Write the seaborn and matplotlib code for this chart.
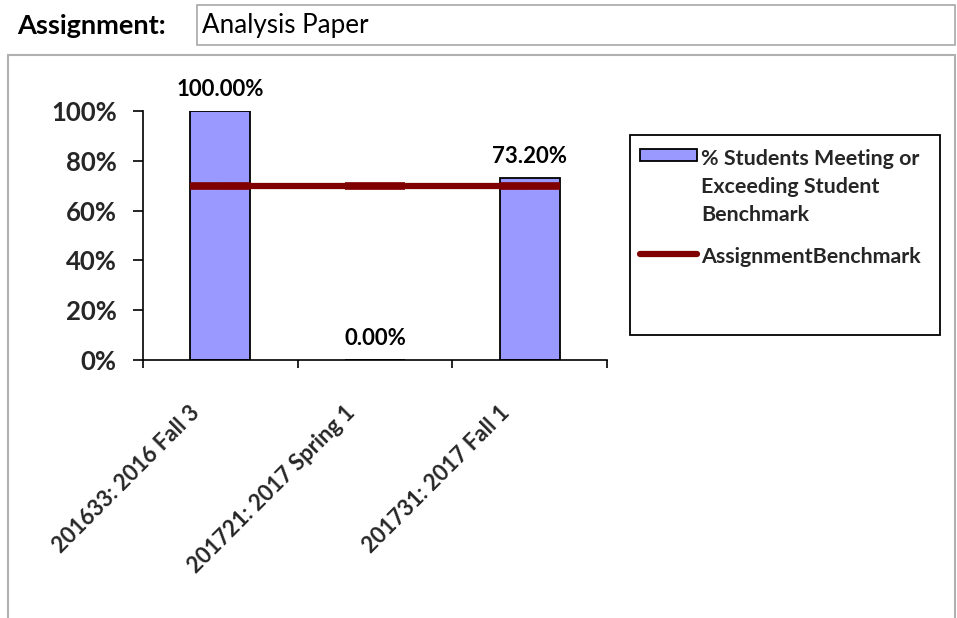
import matplotlib
matplotlib.use("Agg")
import matplotlib.pyplot as plt
from matplotlib.patches import Rectangle
from matplotlib.lines import Line2D
from matplotlib.transforms import ScaledTranslation
import seaborn as sns
import pandas as pd

# Terms, share of students at or above the student benchmark, assignment benchmark
terms = ["201633: 2016 Fall 3", "201721: 2017 Spring 1", "201731: 2017 Fall 1"]
pct_meeting = [1.00, 0.00, 0.732]
assignment_benchmark = [0.70, 0.70, 0.70]
y_ticks = [0.0, 0.2, 0.4, 0.6, 0.8, 1.0]
y_tick_labels = ["0%", "20%", "40%", "60%", "80%", "100%"]

bar_label = "% Students Meeting or\nExceeding Student\nBenchmark"
line_label = "AssignmentBenchmark"
assignment_name = "Analysis Paper"

sns.set_theme(style="white")
plt.rcParams["font.family"] = ["Lato", "DejaVu Sans"]
plt.rcParams["font.weight"] = "bold"

W, H = 957, 618
fig = plt.figure(figsize=(W / 100, H / 100), dpi=100)
fig.patch.set_facecolor("white")


def fx(px):
    return px / W


def fy(py):
    return 1 - py / H


# Header: label and text box
fig.text(fx(17), fy(26), "Assignment:", fontsize=19.5, fontweight="bold",
         ha="left", va="center", color="black")
fig.patches.append(Rectangle((fx(197), fy(45)), fx(955) - fx(197), fy(5) - fy(45),
                             transform=fig.transFigure, facecolor="none",
                             edgecolor="#a8a8a8", linewidth=1.2, zorder=-1))
fig.text(fx(202), fy(26), assignment_name, fontsize=18.7, fontweight="normal",
         ha="left", va="center", color="black")

# Chart panel frame
fig.patches.append(Rectangle((fx(8), fy(640)), fx(955) - fx(8), fy(55) - fy(640),
                             transform=fig.transFigure, facecolor="none",
                             edgecolor="#b0b0b0", linewidth=1.5, zorder=-1))

# Plot area
ax = fig.add_axes([fx(143), fy(360), fx(607) - fx(143), fy(111) - fy(360)])
ax.set_facecolor("none")

df = pd.DataFrame({"term": terms, "pct": pct_meeting})
sns.barplot(data=df, x="term", y="pct", ax=ax, color="#9999ff", saturation=1,
            width=0.39, edgecolor="black", linewidth=1.3, order=terms)

xpos = list(range(len(terms)))
ax.plot(xpos, assignment_benchmark, color="#800000", linewidth=4.5,
        marker="_", markersize=43, markeredgewidth=5.5, solid_capstyle="butt", zorder=5)

for x, v in zip(xpos, pct_meeting):
    ax.annotate(f"{v * 100:.2f}%", (x, v), xytext=(0, 15.5), textcoords="offset points",
                ha="center", va="center", fontsize=16, fontweight="bold", color="black")

ax.set_xlim(-0.5, len(terms) - 0.5)
ax.set_ylim(0, 1)
ax.set_yticks(y_ticks)
ax.set_yticklabels(y_tick_labels, fontsize=18.5, fontweight="bold")
ax.set_xticks([i - 0.5 for i in range(len(terms) + 1)], minor=False)
ax.set_xticklabels([""] * (len(terms) + 1))
ax.set_xticks(xpos, minor=True)
ax.set_xticklabels(terms, minor=True, rotation=45, ha="right", va="top",
                   rotation_mode="anchor", fontsize=16, fontweight="bold")
ax.tick_params(axis="x", which="minor", bottom=False, length=0, pad=30)
ax.tick_params(axis="x", which="major", bottom=True, direction="out", length=6,
               width=1.2, color="black")
ax.tick_params(axis="y", left=True, direction="out", length=7, width=1.2,
               color="black", pad=12)
shift = ScaledTranslation(-0.31, 0, fig.dpi_scale_trans)
for lab in ax.get_xticklabels(minor=True):
    lab.set_transform(lab.get_transform() + shift)
ax.set_xlabel("")
ax.set_ylabel("")

for side in ["top", "right"]:
    ax.spines[side].set_visible(False)
for side in ["left", "bottom"]:
    ax.spines[side].set_visible(True)
    ax.spines[side].set_color("black")
    ax.spines[side].set_linewidth(1.2)

# Legend box
fig.patches.append(Rectangle((fx(630), fy(335)), fx(940) - fx(630), fy(135) - fy(335),
                             transform=fig.transFigure, facecolor="none",
                             edgecolor="black", linewidth=1.3, zorder=-1))
handles = [Rectangle((0, 0), 1, 1, facecolor="#9999ff", edgecolor="black", linewidth=1.3),
           Line2D([0], [0], color="#800000", linewidth=4.5)]
leg = fig.legend(handles, [bar_label, line_label], loc="upper left",
                 bbox_to_anchor=(fx(640), fy(149)), bbox_transform=fig.transFigure,
                 frameon=False, fontsize=15.4, handlelength=2.65, handleheight=0.5,
                 handletextpad=0.2, labelspacing=1.05, borderaxespad=0, borderpad=0)
for t in leg.get_texts():
    t.set_fontweight("bold")
    t.set_linespacing(1.5)
# keep each legend key level with the first line of its label
for column in leg._legend_handle_box.get_children():
    for row in column.get_children():
        row.align = "top"

fig.savefig("out.png", dpi=100, facecolor="white")
